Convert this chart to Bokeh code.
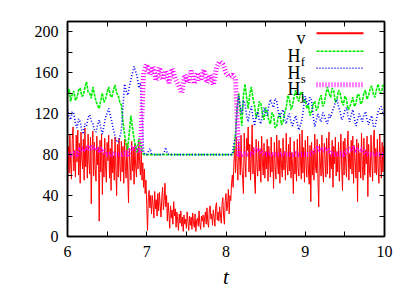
import numpy as np
from bokeh.plotting import figure
from bokeh.models import LinearAxis, FixedTicker, Range1d
from bokeh.core.properties import value
from bokeh.embed import file_html
from bokeh.resources import INLINE

# ---------------- data ----------------
t_v = np.round(np.linspace(6, 10, 401), 2)    # sampling grid of v
t_fs = np.round(np.linspace(6, 10, 201), 2)   # sampling grid of Hf, Hs
t_j = np.round(np.linspace(6, 10, 101), 2)    # sampling grid of Hj

v = [41, 88, 62, 100, 70, 56, 95, 107, 64, 84,
     58, 99, 73, 104, 60, 91, 52, 102, 77, 66,
     95, 55, 106, 68, 88, 57, 100, 72, 61, 97,
     32, 85, 103, 59, 92, 66, 54, 98, 70, 87,
     15, 94, 63, 100, 41, 82, 58, 96, 68, 53,
     92, 74, 99, 57, 86, 45, 95, 62, 79, 55,
     97, 66, 40, 90, 58, 96, 71, 54, 93, 63,
     88, 52, 95, 67, 57, 91, 60, 33, 86, 72,
     55, 93, 64, 87, 51, 90, 69, 58, 84,
     66, 92, 73, 60, 85, 55, 72, 48, 66, 42,
     55, 30, 6, 38, 45, 28, 40,
     22, 40, 31, 18, 44, 27, 36, 20, 42, 25,
     43, 30, 19, 38, 48, 26, 35, 52, 29, 40,
     15, 33, 22, 8, 30, 18, 26, 12, 34, 20,
     27, 9, 24, 16, 6, 22, 13, 25, 10, 19,
     5, 21, 12, 17, 8, 24, 14, 6, 20, 11,
     19, 7, 23, 13, 9, 22, 5, 16, 18, 10,
     25, 12, 7, 20, 15, 21, 9, 18, 24, 12,
     28, 14, 9, 26, 30, 17, 22, 11, 26, 19,
     10, 29, 33, 16, 24, 15, 29, 21, 13, 31,
     38, 20, 12, 35, 42, 25, 30, 46, 22, 40,
     35, 52, 60, 48, 72,
     88, 62, 97, 71, 55, 93, 80, 60, 99, 68,
     57, 42, 101, 74, 58, 96, 84, 107, 63, 90,
     55, 78, 109, 61, 87, 56, 42, 95, 70, 59,
     93, 64, 85, 53, 98, 72, 60, 91, 57, 83,
     66, 95, 54, 88, 75, 58, 97, 63, 80, 47,
     92, 69, 56, 99, 73, 61, 94, 52, 86, 70,
     58, 96, 65, 83, 55, 101, 71, 60, 90, 64,
     97, 57, 82, 69, 42, 93, 61, 78, 54, 95,
     67, 59, 100, 74, 56, 104, 62, 87, 53, 94,
     70, 58, 98, 65, 51, 89, 34, 92, 60, 84,
     55, 100, 68, 62, 95, 57, 29, 90, 73, 59,
     99, 64, 53, 91, 76, 58, 96, 61, 85, 102,
     57, 80, 66, 94, 48, 88, 71, 97, 59, 83,
     63, 92, 54, 79, 100, 67, 45, 93, 60, 96,
     72, 58, 87, 103, 55, 81, 66, 94, 61, 98,
     52, 89, 74, 57, 95, 34, 91, 63, 82, 57,
     101, 69, 55, 96, 60, 84, 71, 98, 39, 90,
     64, 58, 99, 73, 54, 93, 104, 62, 86, 60,
     95, 67, 52, 100, 75, 57, 92, 63, 88, 70]

Hf = [138, 144, 132, 139, 142, 133, 136, 143, 145, 137,
      138, 146, 151, 141, 140, 135, 146, 139, 132, 128,
      125, 133, 140, 131, 134, 141, 146, 138, 136, 143,
      148, 140, 138, 131, 128, 112, 100, 90, 85, 102,
      118, 106, 95, 88, 82, 96, 92,
      84,
      80, 80, 80, 80, 80, 80, 80, 80, 80, 80,
      80, 80, 80, 80, 80, 80, 80, 80, 80, 80,
      80, 80, 80, 80, 80, 80, 80, 80, 80, 80,
      80, 80, 80, 80, 80, 80, 80, 80, 80, 80,
      80, 80, 80, 80, 80, 80, 80, 80, 80, 80,
      80, 80, 80, 80, 80, 80, 80,
      84, 100, 126, 140, 122, 108, 138, 149, 136, 125,
      139, 146, 135, 128, 116, 120, 132, 130, 119, 114,
      126, 122, 113, 110, 121, 118, 106, 108, 117, 120,
      109, 112, 121, 126, 138, 134, 124, 128, 137, 143,
      135, 132, 141, 140, 131, 134, 125, 128, 118, 122,
      129, 132, 123, 126, 134, 138, 127, 130, 139, 146,
      140, 136, 145, 142, 131, 134, 143, 140, 132, 128,
      137, 134, 124, 126, 131, 136, 127, 130, 139, 138,
      129, 132, 140, 143, 134, 138, 145, 147, 139, 136,
      144, 149, 141, 140, 148, 146]

Hs = [124, 117, 114, 122, 120, 111, 106, 115, 112, 104,
      100, 110, 108, 116, 119, 113, 110, 104, 102, 109,
      114, 106, 100, 108, 116, 121, 125, 118, 112, 104,
      98, 93, 92, 97, 104, 126, 149, 142, 138, 146,
      153, 160, 166, 161, 156, 145, 150,
      118, 82, 80, 80, 83, 86, 81, 80, 80, 80,
      80, 80, 80, 80, 82, 87, 81, 80, 80, 80,
      80, 80, 80, 80, 80, 80, 80, 80, 80, 80,
      80, 80, 80, 80, 80, 80, 80, 80, 80, 80,
      80, 80, 80, 80, 80, 80, 80, 80, 80, 80,
      80, 80, 80, 80, 80, 80, 80, 80, 90,
      98, 125, 137, 128, 120, 133, 130, 118, 112, 122,
      127, 116, 108, 117, 122, 114, 110, 119, 126, 121,
      118, 128, 134, 129, 126, 135, 132, 122, 116, 121,
      124, 115, 110, 117, 120, 112, 108, 114, 118, 110,
      104, 109, 115, 127, 137, 131, 128, 136, 133, 118,
      107, 114, 120, 115, 112, 121, 118, 113, 110, 119,
      116, 122, 126, 131, 134, 127, 122, 114, 117, 123,
      126, 118, 112, 119, 124, 115, 108, 114, 120, 116,
      112, 119, 122, 114, 109, 115, 118, 107, 107, 115,
      122, 125, 127, 121, 118]

Hj = [80, 80, 81, 80, 85, 86, 84, 89, 85, 87, 84, 86,
      80, 80, 81, 80, 80, 80, 81, 80, 86, 88, 84, 82,
      160, 168, 158, 166, 152, 165, 153, 162, 150, 164,
      154, 148, 140, 158, 150, 162, 149, 160, 152, 163,
      150, 158, 148, 165, 171, 168, 160, 156, 158, 154,
      80, 80, 81, 80, 80, 84, 86, 83, 80, 80, 81, 80,
      80, 80, 81, 80, 80, 80, 81, 80, 80, 80, 80, 81,
      84, 86, 84, 85, 86, 81, 80, 80, 81, 80, 83, 85,
      86, 84, 86, 85, 81, 80, 80, 81, 80, 80, 80]

x_ticks = [6, 7, 8, 9, 10]
x_minor = [6.5, 7.5, 8.5, 9.5]
y_ticks = [0, 40, 80, 120, 160, 200]
y_minor = [20, 60, 100, 140, 180]

legend_names = ["v", "H", "H", "H"]
legend_subs = ["", "f", "s", "j"]
x_label = "t"

# ---------------- figure ----------------
X0, X1, Y0, Y1 = 6, 10, 0, 210
FW, FH = 317, 215
p = figure(width=407, height=291, x_range=Range1d(X0, X1), y_range=Range1d(Y0, Y1),
           output_backend="svg", toolbar_location=None,
           min_border_left=67, min_border_right=23, min_border_top=21, min_border_bottom=55)
p.xgrid.visible = False
p.ygrid.visible = False
p.outline_line_color = "black"
p.outline_line_width = 1.5
p.background_fill_color = "white"
p.border_fill_color = "white"

FONT = "Liberation Serif"

def style_axis(ax, ticks, minor, show_labels):
    if show_labels:
        ax.ticker = FixedTicker(ticks=ticks, minor_ticks=minor)
        ax.major_label_text_font = FONT
        ax.major_label_text_font_size = "16px"
        ax.major_label_text_color = "black"
        ax.major_label_standoff = 9
    else:
        # mirror axis: only unlabeled ticks
        ax.ticker = FixedTicker(ticks=[], minor_ticks=sorted(ticks + minor))
    ax.major_tick_in = 5
    ax.major_tick_out = 0
    ax.minor_tick_in = 5
    ax.minor_tick_out = 0
    ax.major_tick_line_color = "black"
    ax.minor_tick_line_color = "black"
    ax.axis_line_color = "black"
    ax.axis_line_width = 1.5

style_axis(p.xaxis[0], x_ticks, x_minor, True)
style_axis(p.yaxis[0], y_ticks, y_minor, True)
p.xaxis[0].axis_label = x_label
p.xaxis[0].axis_label_text_font = FONT
p.xaxis[0].axis_label_text_font_style = "italic"
p.xaxis[0].axis_label_text_font_size = "21px"
p.xaxis[0].axis_label_text_color = "black"
p.xaxis[0].axis_label_standoff = 5

ax_r = LinearAxis()
style_axis(ax_r, y_ticks, y_minor, False)
p.add_layout(ax_r, "right")
ax_t = LinearAxis()
style_axis(ax_t, x_ticks, x_minor, False)
p.add_layout(ax_t, "above")

# ---------------- series ----------------
styles = [
    dict(color="#ff0000", line_width=1.0, line_dash="solid"),
    dict(color="#00ee00", line_width=1.6, line_dash="3 1"),
    dict(color="#0000ff", line_width=1.6, line_dash="1 2"),
    dict(color="#ff00ff", line_width=5, line_dash="1 2"),
]
series = [(t_v, v), (t_fs, Hf), (t_fs, Hs), (t_j, Hj)]
for (xs, ys), st in zip(series, styles):
    p.line(xs, ys, **st)

# ---------------- legend (drawn by hand for subscripts) ----------------
def dx(px):  # pixel offset inside frame -> data x
    return X0 + (X1 - X0) * px / FW

def dy(py):  # pixel offset from frame top -> data y
    return Y1 - (Y1 - Y0) * py / FH

line_rows = [11.7, 29.7, 46.7, 63.3]   # px below frame top
for k, st in enumerate(styles):
    yy = dy(line_rows[k])
    lw = 2 if k == 0 else st["line_width"]
    p.segment(x0=[dx(249)], y0=[yy], x1=[dx(296)], y1=[yy],
              line_color=st["color"], line_width=lw, line_dash=st["line_dash"])
    if legend_subs[k] == "":
        p.text(x=[dx(238)], y=[yy - 5.0], text=[legend_names[k]],
               text_font=value(FONT), text_font_size="18px", text_color="black",
               text_align="right", text_baseline="alphabetic")
    else:
        p.text(x=[dx(233)], y=[yy - 4.2], text=[legend_names[k]],
               text_font=value(FONT), text_font_size="18px", text_color="black",
               text_align="right", text_baseline="alphabetic")
        p.text(x=[dx(233.3)], y=[yy - 10.5], text=[legend_subs[k]],
               text_font=value(FONT), text_font_size="13px", text_color="black",
               text_align="left", text_baseline="alphabetic")

open("out.html", "w").write(file_html(p, INLINE))
